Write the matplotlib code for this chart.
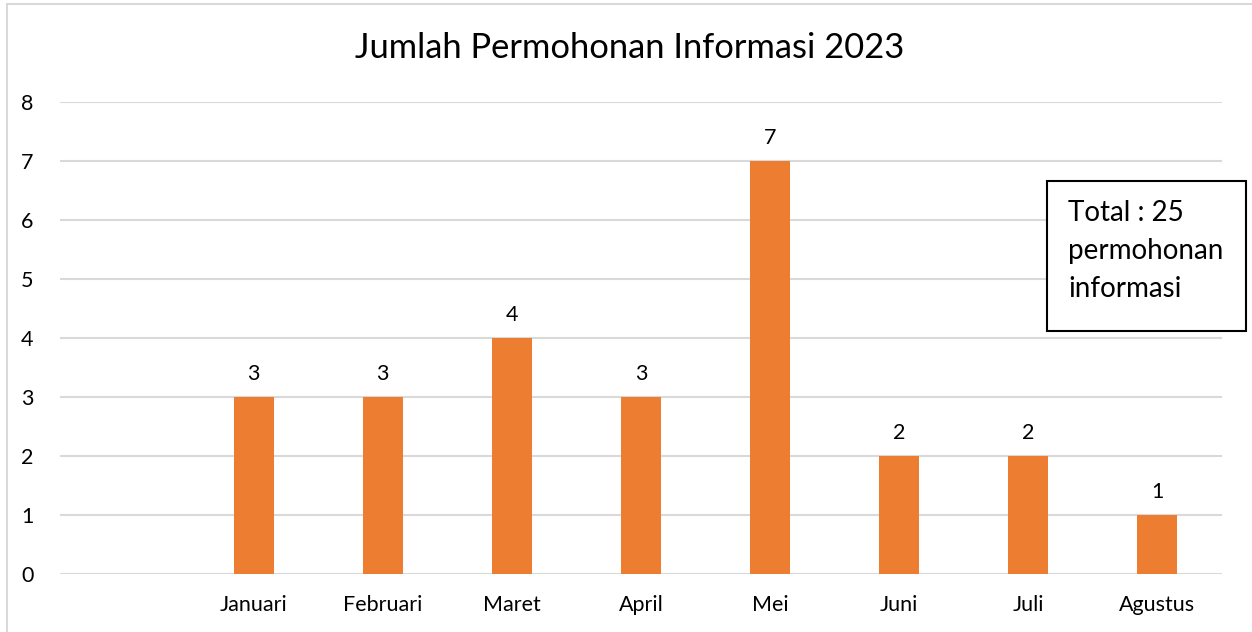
import matplotlib
matplotlib.use("Agg")
import matplotlib.pyplot as plt
from matplotlib.patches import Rectangle
import numpy as np

plt.rcParams['font.family'] = ['Lato', 'DejaVu Sans']

categories = ["", "Januari", "Februari", "Maret", "April", "Mei", "Juni", "Juli", "Agustus"]
values = [None, 3, 3, 4, 3, 7, 2, 2, 1]
title = "Jumlah Permohonan Informasi 2023"
note = "Total : 25\npermohonan\ninformasi"

W, H = 1252, 632
fig = plt.figure(figsize=(W / 100, H / 100), dpi=100)
ax = fig.add_axes([60 / W, 1 - 574 / H, (1222 - 60) / W, (574 - 102) / H])

x = np.arange(len(categories))
hv = [v if v is not None else 0 for v in values]
bars = ax.bar(x, hv, width=0.31, color="#ED7D31", zorder=3)
for xi, v in zip(x, values):
    if v is not None:
        ax.text(xi, v + 0.22, str(v), ha="center", va="bottom", fontsize=15.5, color="#000000")

ax.set_xlim(-0.5, len(categories) - 0.5)
ax.set_ylim(0, 8)
ax.set_yticks(range(0, 9))
ax.set_xticks(x)
ax.set_xticklabels(categories)
ax.tick_params(axis="both", length=0, labelsize=15.5, colors="#000000")
ax.tick_params(axis="y", pad=19)
ax.tick_params(axis="x", pad=15)
ax.yaxis.grid(True, color="#D9D9D9", linewidth=1.5, zorder=0)
for s in ax.spines.values():
    s.set_visible(False)

fig.text(630 / W, 1 - 48 / H, title, ha="center", va="center", fontsize=24.8, color="#000000")

# figure border
fig.patches.append(Rectangle((6.5 / W, -0.1), 1.2, 1.1 - 4 / H, transform=fig.transFigure,
                             fill=False, edgecolor="#D9D9D9", linewidth=1.5))

# note box
fig.patches.append(Rectangle((1047 / W, 1 - 331 / H), (1246 - 1047) / W, (331 - 181) / H,
                             transform=fig.transFigure, fill=True, facecolor="white",
                             edgecolor="black", linewidth=1.5, zorder=5))
fig.text(1068 / W, 1 - 251 / H, note, ha="left", va="center", fontsize=20,
         linespacing=1.58, color="#000000", zorder=6)

fig.savefig("out.png", dpi=100)
